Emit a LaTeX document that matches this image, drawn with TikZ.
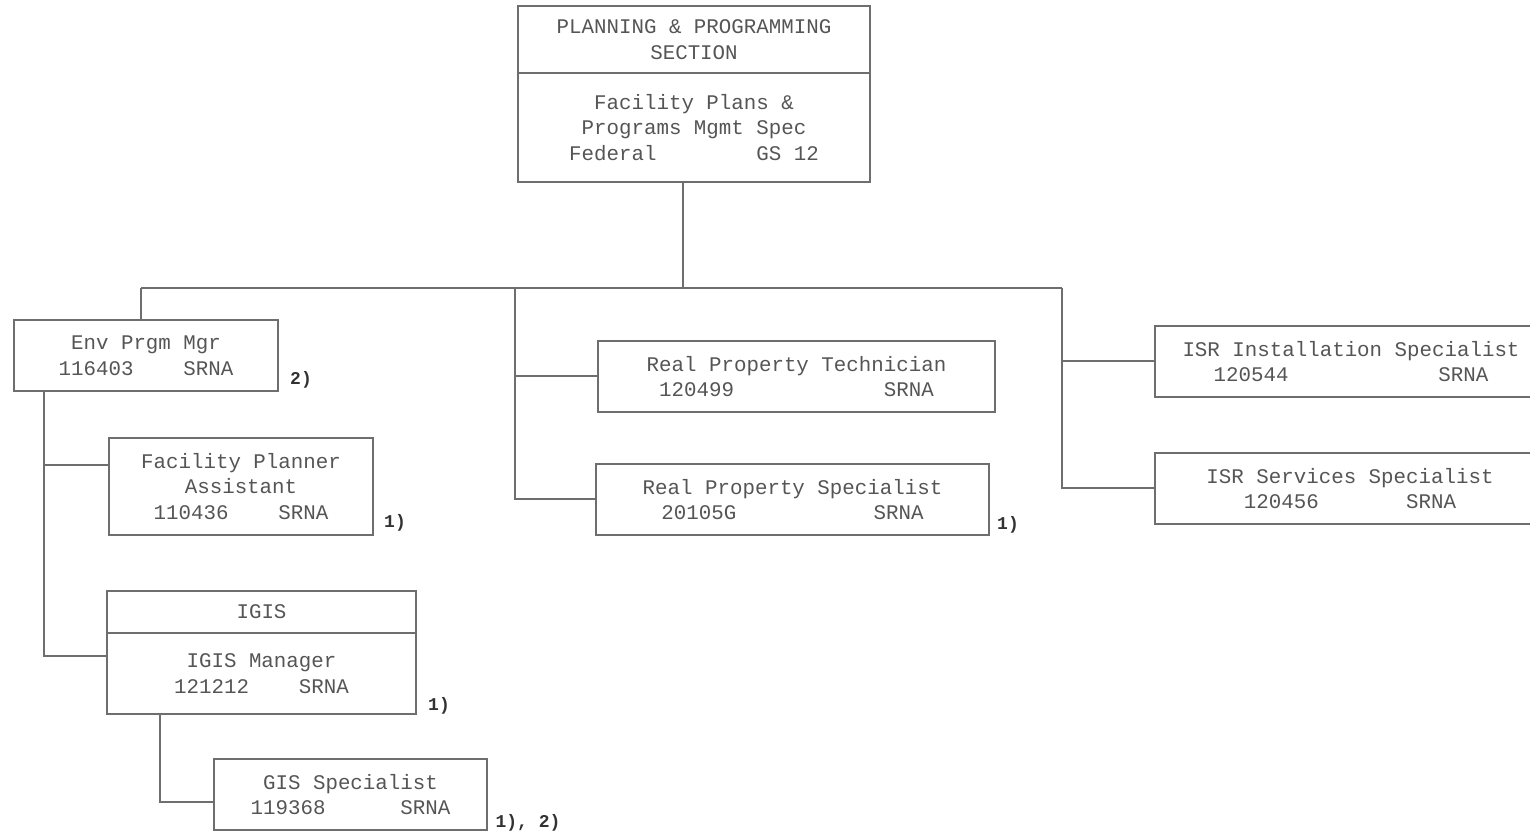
\documentclass[tikz,border=0pt]{standalone}
\usepackage{fontspec}
\usepackage{tikz}
\usetikzlibrary{positioning,calc}
\newfontfamily\typer{Liberation Mono}
\definecolor{boxgray}{RGB}{110,110,110}
\definecolor{txtgray}{RGB}{85,85,85}
\definecolor{notegray}{RGB}{50,50,50}
\newcommand{\posfont}{\typer\fontsize{10.4}{12.8}\selectfont}
\newcommand{\notefont}{\typer\bfseries\fontsize{9}{10}\selectfont}
\tikzset{
  posbox/.style={draw=boxgray,line width=1pt,align=center,inner sep=0pt,
              font=\posfont,text=txtgray},
  note/.style={font=\notefont,text=notegray,inner sep=0pt},
  conn/.style={draw=boxgray,line width=1pt},
}

\begin{document}
\begin{tikzpicture}[x=0.5pt,y=-0.5pt]
\useasboundingbox (0,0) rectangle (1530,833);
% section head
\node[posbox,minimum width=176pt,minimum height=33.5pt] (sect) at (694,39.5)
  {PLANNING \& PROGRAMMING\\SECTION};
\node[posbox,minimum width=176pt,minimum height=54.5pt] (ppm) at (694,127.5)
  {Facility Plans \&\\Programs Mgmt Spec\\Federal~~~~~~~~GS 12};
% left branch
\node[posbox,minimum width=132pt,minimum height=35.5pt] (env) at (146,355.5)
  {Env Prgm Mgr\\116403~~~~SRNA};
\node[posbox,minimum width=132pt,minimum height=48.5pt] (fpa) at (241,486.5)
  {Facility Planner\\Assistant\\110436~~~~SRNA};
\node[posbox,minimum width=154.5pt,minimum height=21pt] (igis) at (261.5,612)
  {IGIS};
\node[posbox,minimum width=154.5pt,minimum height=40.5pt] (igism) at (261.5,673.5)
  {IGIS Manager\\121212~~~~SRNA};
\node[posbox,minimum width=136.5pt,minimum height=35.5pt] (gis) at (350.5,794.5)
  {GIS Specialist\\119368~~~~~~SRNA};
% middle branch
\node[posbox,minimum width=198.5pt,minimum height=35.5pt] (rpt) at (796.5,376.5)
  {Real Property Technician\\120499~~~~~~~~~~~~SRNA};
\node[posbox,minimum width=196.5pt,minimum height=35.5pt] (rps) at (792.5,499.5)
  {Real Property Specialist\\20105G~~~~~~~~~~~SRNA};
% right branch
\node[posbox,minimum width=196pt,minimum height=35.5pt] (isri) at (1351,361.5)
  {ISR Installation Specialist\\120544~~~~~~~~~~~~SRNA};
\node[posbox,minimum width=195pt,minimum height=35.5pt] (isrs) at (1350,488.5)
  {ISR Services Specialist\\120456~~~~~~~SRNA};
% notes
\node[note] (n1) at (301,380) {2)};
\node[note] (n2) at (395,523) {1)};
\node[note] (n3) at (439,706) {1)};
\node[note] (n4) at (528,823) {1), 2)};
\node[note] (n5) at (1008,525) {1)};
% connectors
\coordinate (drop) at (683,288);
\coordinate (busL) at (141,288);
\coordinate (busM) at (515,288);
\coordinate (busR) at (1062,288);
\coordinate (envL) at (44,391);
\coordinate (igisL) at (160,714);
\coordinate (fpaIn) at ([yshift=10.75pt]fpa.west);
\coordinate (igisIn) at ([yshift=8.75pt]igism.west);
\coordinate (gisIn) at ([yshift=-3.75pt]gis.west);
\draw[conn] (drop |- ppm.south) -- (drop);
\draw[conn] (busL) -- (busR);
\draw[conn] (busL) -- (busL |- env.north);
\draw[conn] (busM) |- (rps.west);
\draw[conn] (busM |- rpt.west) -- (rpt.west);
\draw[conn] (busR) |- (isrs.west);
\draw[conn] (busR |- isri.west) -- (isri.west);
\draw[conn] (envL) |- (igisIn);
\draw[conn] (envL |- fpaIn) -- (fpaIn);
\draw[conn] (igisL) |- (gisIn);
\end{tikzpicture}
\end{document}
